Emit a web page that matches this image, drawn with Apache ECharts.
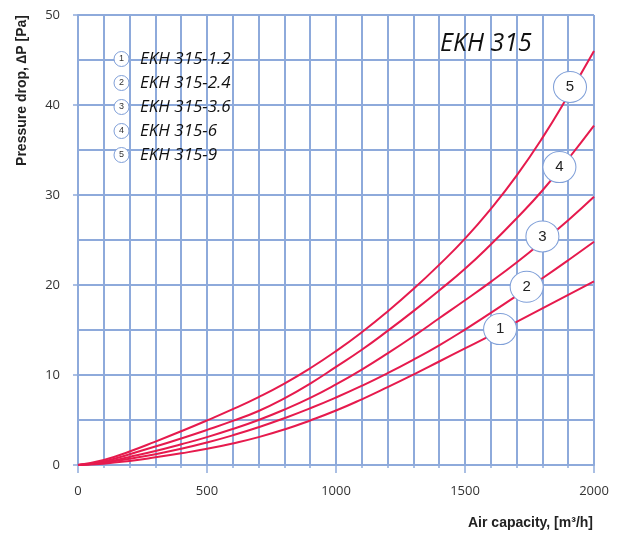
<!DOCTYPE html>
<html><head><meta charset="utf-8">
<script src="https://cdn.jsdelivr.net/npm/echarts@6/dist/echarts.min.js"></script>
<style>html,body{margin:0;padding:0;background:#fff}#c{width:623px;height:535px}</style>
</head><body><div id="c"></div>
<script>
const flow = [0,100,200,300,400,500,600,700,800,900,1000,1100,1200,1300,1400,1500,1600,1700,1800,1900,2000];
const dp1 = [0,0.15,0.45,0.85,1.3,1.8,2.4,3.1,3.95,4.95,6.05,7.3,8.65,10.05,11.5,12.95,14.4,15.9,17.4,18.9,20.4];
const dp2 = [0,0.25,0.7,1.2,1.8,2.5,3.3,4.2,5.2,6.3,7.5,8.8,10.2,11.7,13.3,15.05,16.9,18.8,20.75,22.75,24.8];
const dp3 = [0,0.3,0.9,1.55,2.3,3.1,4.0,5.0,6.15,7.45,8.95,10.6,12.4,14.3,16.3,18.3,20.35,22.5,24.8,27.2,29.8];
const dp4 = [0,0.4,1.2,2.05,2.95,3.9,4.9,6.0,7.4,9.05,10.9,12.8,14.9,17.1,19.4,21.8,24.5,27.4,30.5,34.0,37.7];
const dp5 = [0,0.55,1.5,2.6,3.75,4.95,6.2,7.55,9.05,10.75,12.65,14.75,17.05,19.55,22.25,25.15,28.45,32.15,36.35,41.05,46.0];
const seriesNames = ['EKH 315-1.2','EKH 315-2.4','EKH 315-3.6','EKH 315-6','EKH 315-9'];
const curveTags = ['1','2','3','4','5'];
const tagFlow = [1636,1739,1800,1866,1907];
const tagDp = [15.1,19.8,25.4,33.1,42.0];
const chartTitle = 'EKH 315';
const xName = 'Air capacity, [m\u00B3/h]';
const yName = 'Pressure drop, \u2206P [Pa]';

const allDp = [dp1,dp2,dp3,dp4,dp5];
const gridColor = '#8eaadb';
const curveColor = '#e61a4d';

const chart = echarts.init(document.getElementById('c'));

const series = allDp.map((arr, i) => ({
  name: seriesNames[i],
  type: 'line',
  smooth: true,
  showSymbol: false,
  symbol: 'none',
  xAxisIndex: 0, yAxisIndex: 0,
  lineStyle: {color: curveColor, width: 2},
  data: flow.map((f, j) => [f, arr[j]]),
  z: 3
}));
series.push({
  type: 'scatter',
  xAxisIndex: 0, yAxisIndex: 0,
  symbol: 'circle',
  symbolSize: [33, 31],
  itemStyle: {color: '#fff', borderColor: '#7f9fd8', borderWidth: 1, opacity: 1},
  label: {show: true, position: 'inside', formatter: p => curveTags[p.dataIndex], fontSize: 15, color: '#222', fontFamily: 'Liberation Sans'},
  data: tagFlow.map((f, i) => [f, tagDp[i]]),
  z: 5, silent: true
});

const graphics = [];
seriesNames.forEach((n, i) => {
  const cy = 59 + 24 * i;
  graphics.push({type: 'circle', shape: {cx: 121.5, cy: cy, r: 7.5}, style: {fill: '#fff', stroke: '#7f9fd8', lineWidth: 1}, z: 100});
  graphics.push({type: 'text', x: 121.5, y: cy, style: {text: curveTags[i], fontSize: 9, fill: '#333', align: 'center', verticalAlign: 'middle', fontFamily: 'Liberation Sans'}, z: 101});
  graphics.push({type: 'text', x: 140, y: cy, style: {text: n, fontSize: 17, fontStyle: 'italic', fontWeight: 500, fill: '#111', align: 'left', verticalAlign: 'middle', fontFamily: 'Open Sans'}, z: 101});
});
graphics.push({type: 'text', x: 440, y: 44, style: {text: chartTitle, fontSize: 25, fontStyle: 'italic', fontWeight: 500, fill: '#111', align: 'left', verticalAlign: 'middle', fontFamily: 'Open Sans'}, z: 101});
graphics.push({type: 'text', x: 593, y: 523, style: {text: xName, fontSize: 14, fontWeight: 'bold', fill: '#222', align: 'right', verticalAlign: 'middle', fontFamily: 'Liberation Sans'}, z: 101});
graphics.push({type: 'text', x: 22, y: 15, rotation: Math.PI / 2, style: {text: yName, fontSize: 14, fontWeight: 'bold', fill: '#222', align: 'right', verticalAlign: 'middle', fontFamily: 'Liberation Sans'}, z: 101});

chart.setOption({
  animation: false,
  backgroundColor: '#fff',
  grid: {left: 78, right: 29, top: 15, bottom: 70},
  xAxis: [
    {type: 'value', min: 0, max: 2000, interval: 100, position: 'bottom',
      axisLine: {show: true, lineStyle: {color: gridColor, width: 2}},
      axisTick: {show: true, length: 3, lineStyle: {color: gridColor, width: 1.5}},
      axisLabel: {show: false},
      splitLine: {show: true, lineStyle: {color: gridColor, width: 2}}},
    {type: 'value', min: 0, max: 2000, interval: 500, position: 'bottom',
      axisLine: {show: false},
      axisTick: {show: true, length: 8, lineStyle: {color: gridColor, width: 1.5}},
      axisLabel: {show: true, margin: 20, fontSize: 13, color: '#333', fontFamily: 'Open Sans', formatter: v => String(v)},
      splitLine: {show: false}}
  ],
  yAxis: [
    {type: 'value', min: 0, max: 50, interval: 5, position: 'left',
      axisLine: {show: true, lineStyle: {color: gridColor, width: 2}},
      axisTick: {show: false},
      axisLabel: {show: false},
      splitLine: {show: true, lineStyle: {color: gridColor, width: 2}}},
    {type: 'value', min: 0, max: 50, interval: 10, position: 'left',
      axisLine: {show: false},
      axisTick: {show: true, length: 5, lineStyle: {color: gridColor, width: 1.5}},
      axisLabel: {show: true, margin: 18, fontSize: 13, color: '#333', fontFamily: 'Open Sans', formatter: v => String(v)},
      splitLine: {show: false}}
  ],
  graphic: graphics,
  series: series
});
</script>
</body></html>
